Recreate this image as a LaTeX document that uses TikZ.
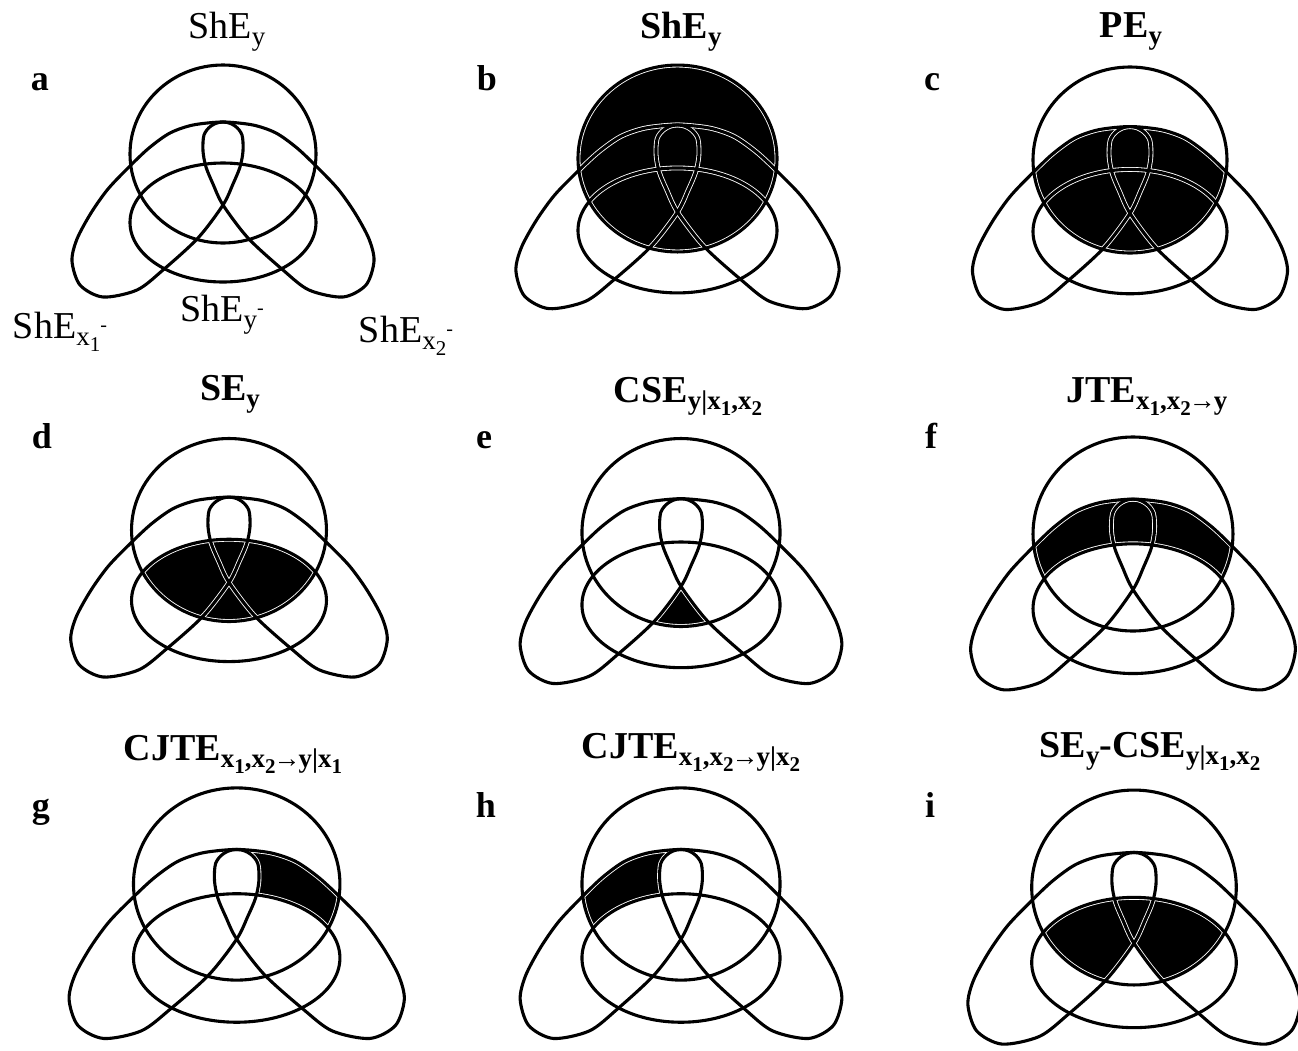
\documentclass[tikz,border=0pt]{standalone}
\usepackage{fontspec}
\setmainfont{Liberation Serif}
\newcommand{\mysub}[1]{\raisebox{-3.5pt}{\fontsize{13.5}{14}\selectfont #1}}
\newcommand{\mysubsub}[1]{\raisebox{-3pt}{\fontsize{10.5}{10.5}\selectfont #1}}
\newcommand{\mysup}[1]{\raisebox{7pt}{\fontsize{10}{10}\selectfont #1}}
\def\Ypath{(0,0) ellipse [x radius=93, y radius=89]}
\def\Epath{(0,-68.5) ellipse [x radius=93, y radius=59.5]}
\def\Lpath{plot[smooth cycle] coordinates {(0,32) (-30,29) (-53,21) (-74,6) (-94,-13) (-115,-35) (-132,-59) (-146,-85) (-151,-107) (-143,-131) (-120,-143) (-86,-136) (-60,-116) (-25,-84) (0,-51) (10,-30) (17,-13) (20,3) (19,19) (12,28)}}
\def\Rpath{plot[smooth cycle] coordinates {(0,32) (30,29) (53,21) (74,6) (94,-13) (115,-35) (132,-59) (146,-85) (151,-107) (143,-131) (120,-143) (86,-136) (60,-116) (25,-84) (0,-51) (-10,-30) (-17,-13) (-20,3) (-19,19) (-12,28)}}
\newcommand{\mycurves}{\draw[halo] \Ypath; \draw[halo] \Epath; \draw[halo] \Lpath; \draw[halo] \Rpath;
  \draw[ln] \Ypath; \draw[ln] \Epath; \draw[ln] \Lpath; \draw[ln] \Rpath;}
\newcommand{\vpanel}[5]{\begin{scope}[shift={(#1,#2)},xscale=#3,yscale=-#4] #5 \mycurves \end{scope}}
\begin{document}
\begin{tikzpicture}[x=0.5pt,y=-0.5pt,
  halo/.style={draw=white, line width=2.4pt},
  ln/.style={draw=black, line width=1.55pt},
  ttl/.style={anchor=base, inner sep=0pt, font=\fontsize{19}{22}\selectfont\bfseries},
  lett/.style={anchor=base, inner sep=0pt, font=\fontsize{18}{20}\selectfont\bfseries},
  lbl/.style={anchor=base, inner sep=0pt, font=\fontsize{19}{22}\selectfont}]
\useasboundingbox (0,0) rectangle (1298,1051);
\fill[white] (0,0) rectangle (1298,1051);

% a
\vpanel{223}{154}{1.0}{1.0}{}
% b
\vpanel{677.5}{158.5}{1.07}{1.05}{\fill[black] \Ypath;}
% c
\vpanel{1130}{160}{1.043}{1.045}{\begin{scope}\clip \Ypath; \fill[black] \Lpath; \fill[black] \Rpath; \fill[black] \Epath;\end{scope}}
% d
\vpanel{229}{530}{1.048}{1.028}{\begin{scope}\clip \Ypath; \fill[black] \Epath;\end{scope}}
% e
\vpanel{681}{532.5}{1.065}{1.056}{\begin{scope}\clip \Ypath; \clip \Epath; \fill[black] (-200,-200) rectangle (200,200); \fill[white] \Lpath; \fill[white] \Rpath;\end{scope}}
% f
\vpanel{1133}{534}{1.075}{1.09}{\begin{scope}\clip \Ypath; \fill[black] \Lpath; \fill[black] \Rpath; \fill[white] \Epath;\end{scope}}
% g
\vpanel{236.7}{884}{1.11}{1.08}{\begin{scope}\clip \Ypath; \clip \Rpath; \fill[black] (-200,-200) rectangle (200,200); \fill[white] \Lpath; \fill[white] \Epath;\end{scope}}
% h
\vpanel{681}{884}{1.065}{1.08}{\begin{scope}\clip \Ypath; \clip \Lpath; \fill[black] (-200,-200) rectangle (200,200); \fill[white] \Rpath; \fill[white] \Epath;\end{scope}}
% i
\vpanel{1134}{887.5}{1.10}{1.095}{\begin{scope}\clip \Ypath; \clip \Epath; \fill[black] \Lpath; \fill[black] \Rpath;\end{scope}}

% titles
\node[lbl] (ta) at (227,38) {ShE\mysub{y}};
\node[ttl] (tb) at (681,38) {ShE\mysub{y}};
\node[ttl] (tc) at (1131,37) {PE\mysub{y}};
\node[ttl] (td) at (230,400) {SE\mysub{y}};
\node[ttl] (te) at (688,402) {CSE\mysub{y|x\mysubsub{1},x\mysubsub{2}}};
\node[ttl] (tf) at (1147,402) {JTE\mysub{x\mysubsub{1},x\mysubsub{2}\kern-1pt→\kern-1pt y}};
\node[ttl] (tg) at (233,760) {CJTE\mysub{x\mysubsub{1},x\mysubsub{2}\kern-1pt→\kern-1pt y|x\mysubsub{1}}};
\node[ttl] (th) at (691,758) {CJTE\mysub{x\mysubsub{1},x\mysubsub{2}\kern-1pt→\kern-1pt y|x\mysubsub{2}}};
\node[ttl] (ti) at (1150,757) {SE\mysub{y}-CSE\mysub{y|x\mysubsub{1},x\mysubsub{2}}};

% panel letters
\node[lett] (la) at (40,90) {a};
\node[lett] (lb) at (487,90) {b};
\node[lett] (lc) at (932,90) {c};
\node[lett] (ld) at (42,448) {d};
\node[lett] (le) at (484,448) {e};
\node[lett] (lf) at (931,448) {f};
\node[lett] (lg) at (41,817) {g};
\node[lett] (lh) at (486,817) {h};
\node[lett] (li) at (930,817) {i};

% panel a set labels
\node[lbl] (sx1) at (60,338) {ShE\mysub{x\mysubsub{1}\mysup{-}}};
\node[lbl] (sy) at (222,321) {ShE\mysub{y\mysup{-}}};
\node[lbl] (sx2) at (406,342) {ShE\mysub{x\mysubsub{2}\mysup{-}}};
\end{tikzpicture}
\end{document}
